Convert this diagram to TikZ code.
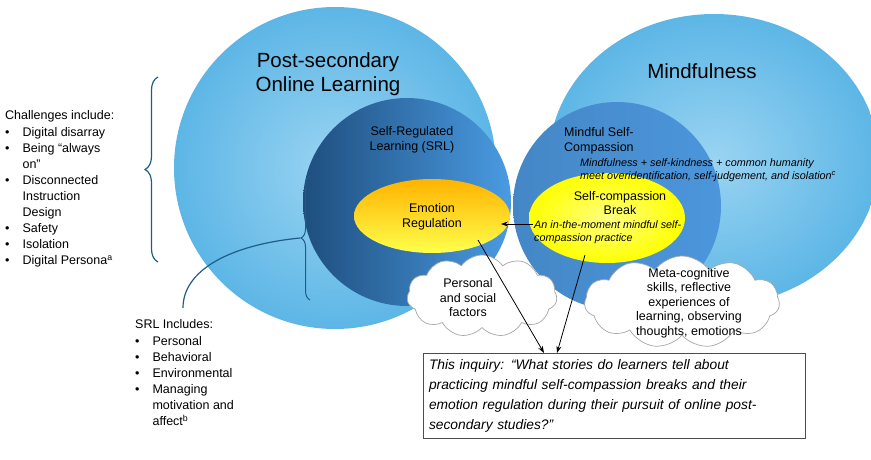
\documentclass[tikz,border=0pt]{standalone}
\usepackage{fontspec}
\setmainfont{Liberation Sans}
\usetikzlibrary{shapes.symbols,shapes.geometric,arrows.meta,decorations.pathreplacing}
\definecolor{lb1}{HTML}{5DB6E6}
\definecolor{lb2}{HTML}{9AD4F2}
\definecolor{db1}{HTML}{1E4E7E}
\definecolor{db2}{HTML}{4A9BE2}
\definecolor{mb}{HTML}{4C96DC}
\definecolor{braceblue}{HTML}{1F5C8A}
\begin{document}
\begin{tikzpicture}[x=1pt,y=-1pt,
  txt/.style={font=\fontsize{12.5}{14.5}\selectfont,align=left,inner sep=0},
  ctr/.style={font=\fontsize{12.5}{14.5}\selectfont,align=center,inner sep=0},
  itl/.style={font=\fontsize{10.8}{13}\selectfont\itshape,align=left,inner sep=0},
  cl/.style={cloud,cloud puffs=11,cloud puff arc=110,aspect=1.6,draw=gray!70,fill=white,line width=0.7pt},
  arr/.style={-{Stealth[length=7pt,width=5pt]},line width=0.8pt}]
\useasboundingbox (0,0) rectangle (871,460);
% big circles
\node[circle,minimum size=322pt,inner sep=0,outer color=lb1,inner color=lb2] (bigL) at (335,168) {};
\node[ellipse,minimum width=330pt,minimum height=292pt,inner sep=0,outer color=lb1,inner color=lb2] (bigR) at (714,160) {};
% inner circles
\node[circle,minimum size=208pt,inner sep=0,left color=db1,right color=db2] (srl) at (407,202) {};
\node[circle,minimum size=208pt,inner sep=0,left color=mb!90!black,right color=mb] (msc) at (617,206) {};
% yellow ellipses
\node[ellipse,minimum width=156pt,minimum height=74pt,inner sep=0,top color=orange!60!yellow,bottom color=yellow!70!white] (er) at (432,216) {};
\node[ellipse,minimum width=156pt,minimum height=90pt,inner sep=0,inner color=yellow!50!white,outer color=yellow] (scb) at (607,218) {};
% clouds
\node[cl,minimum width=150pt,minimum height=82pt] (c1) at (482,296) {};
\node[cl,minimum width=195pt,minimum height=92pt] (c2) at (682,302) {};
% titles
\node[ctr,font=\fontsize{20.5}{24.5}\selectfont] (t1) at (328,74) {Post-secondary\\Online Learning};
\node[ctr,font=\fontsize{20.5}{24.5}\selectfont] (t2) at (702,71) {Mindfulness};
\node[ctr] (srlt) at (412,140) {Self-Regulated\\Learning (SRL)};
\node[ctr] (ert) at (432,217) {Emotion\\Regulation};
\node[txt,anchor=west] (msct) at (564,141) {Mindful Self-\\Compassion};
\node[itl,anchor=west] (mscd) at (580,170) {Mindfulness + self-kindness + common humanity\\meet overidentification, self-judgement, and isolation\textsuperscript{c}};
\node[ctr] (scbt) at (620,203) {Self-compassion\\Break};
\node[itl,anchor=west] (scbd) at (534,232) {An in-the-moment mindful self-\\compassion practice};
\node[ctr] (c1t) at (468,298) {Personal\\and social\\factors};
\node[ctr] (c2t) at (689,303) {Meta-cognitive\\skills, reflective\\experiences of\\learning, observing\\thoughts, emotions};
% inquiry box
\node[draw=gray!60!black,line width=0.8pt,fill=white,minimum height=82pt,text width=370pt,align=left,inner sep=6pt,font=\fontsize{13.8}{20}\selectfont\itshape] (box) at (614,396) {This inquiry: “What stories do learners tell about\\practicing mindful self-compassion breaks and their\\emotion regulation during their pursuit of online post-\\secondary studies?”};
% arrows
\coordinate (a1) at (478,240);
\coordinate (a2) at (585,255);
\coordinate (a3) at (533,224);
\coordinate (a4) at (501,224);
\coordinate (b1) at (544,353);
\coordinate (b2) at (557,353);
\draw[arr] (a1) -- (b1);
\draw[arr] (a2) -- (b2);
\draw[arr] (a3) -- (a4);
% left lists
\node[txt,anchor=north west] (ch) at (5,110) {Challenges include:};
\node[txt,anchor=north west,font=\fontsize{12.5}{16}\selectfont] (chl) at (5,125) {\begin{tabular}{@{}l@{\hspace{13pt}}l@{}}
•&Digital disarray\\
•&Being “always\\ &on”\\
•&Disconnected\\ &Instruction\\ &Design\\
•&Safety\\
•&Isolation\\
•&Digital Persona\textsuperscript{a}
\end{tabular}};
\node[txt,anchor=north west] (srli) at (135,319) {SRL Includes:};
\node[txt,anchor=north west,font=\fontsize{12.5}{16}\selectfont] (srll) at (135,334) {\begin{tabular}{@{}l@{\hspace{13pt}}l@{}}
•&Personal\\
•&Behavioral\\
•&Environmental\\
•&Managing\\ &motivation and\\ &affect\textsuperscript{b}
\end{tabular}};
% braces
\draw[braceblue,line width=1.2pt,decorate,decoration={brace,amplitude=13pt}] (158,262) -- (158,77);
\draw[braceblue,line width=1pt,decorate,decoration={brace,amplitude=9pt}] (310,300) -- (310,176);
\coordinate (bt) at (300,238);
\coordinate (be) at (183,308);
\draw[braceblue,line width=1.2pt] (bt) .. controls (230,245) and (183,270) .. (be);
\end{tikzpicture}
\end{document}
